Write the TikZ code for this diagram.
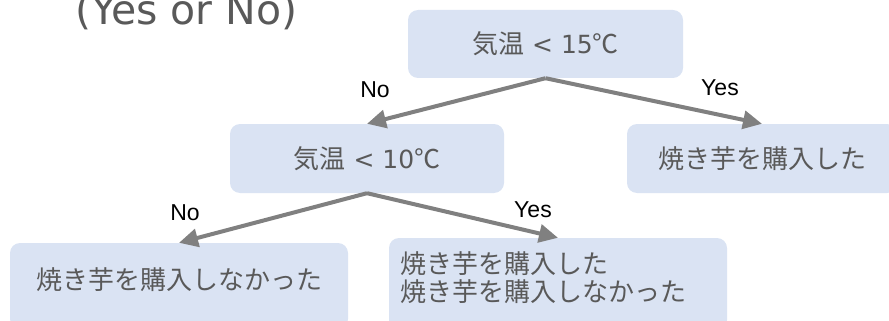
\documentclass[tikz,border=0pt]{standalone}
\usepackage{fontspec}
\usetikzlibrary{arrows.meta}
\newfontfamily\jpfont{Noto Sans CJK JP}
\newfontfamily\latfont{DejaVu Sans}
\newfontfamily\labfont{Liberation Sans}
\definecolor{boxfill}{HTML}{DAE3F3}
\definecolor{txtgray}{HTML}{595959}
\definecolor{arrgray}{HTML}{808080}
\tikzset{
  box/.style={fill=boxfill, rounded corners=10pt, inner sep=0pt, text=txtgray,
    font=\jpfont\fontsize{26}{30}\selectfont},
  conn/.style={draw=arrgray, line width=4pt, -{Triangle[length=19pt,width=18pt]}},
  lab/.style={font=\labfont\fontsize{23}{26}\selectfont, text=black, inner sep=0pt}
}
\begin{document}
\begin{tikzpicture}[x=1pt,y=-1pt]
\useasboundingbox (0,0) rectangle (889,321);
\clip (0,0) rectangle (889,321);
\node[anchor=base, text=txtgray, font=\latfont\fontsize{41}{44}\selectfont, inner sep=0pt] (title) at (186.5,25) {(Yes or No)};
\node[box, minimum width=275pt, minimum height=68pt] (b1) at (545.5,44) {気温{\latfont\fontsize{25}{30}\selectfont\ < 15}℃};
\node[box, minimum width=274pt, minimum height=69pt] (b2) at (367,158.5) {気温{\latfont\fontsize{25}{30}\selectfont\ < 10}℃};
\node[box, minimum width=270pt, minimum height=69pt] (b3) at (762,158.5) {焼き芋を購入した};
\node[box, minimum width=338pt, minimum height=86pt] (b4) at (179,286) {};
\node[box, minimum width=338pt, minimum height=92pt] (b5) at (558,284) {};
\node[box, fill=none, anchor=center] (t4) at (179,280) {焼き芋を購入しなかった};
\node[box, fill=none, anchor=west, align=left, font=\jpfont\fontsize{26}{28}\selectfont] (t5) at (400,278) {焼き芋を購入した\\焼き芋を購入しなかった};
\draw[conn] (b1.south) -- (b2.north);
\draw[conn] (b1.south) -- (b3.north);
\draw[conn] (b2.south) -- (b4.north);
\draw[conn] (b2.south) -- (b5.north);
\node[lab] (l1) at (375,90) {No};
\node[lab] (l2) at (720,88) {Yes};
\node[lab] (l3) at (185,213) {No};
\node[lab] (l4) at (533,210) {Yes};
\end{tikzpicture}
\end{document}
